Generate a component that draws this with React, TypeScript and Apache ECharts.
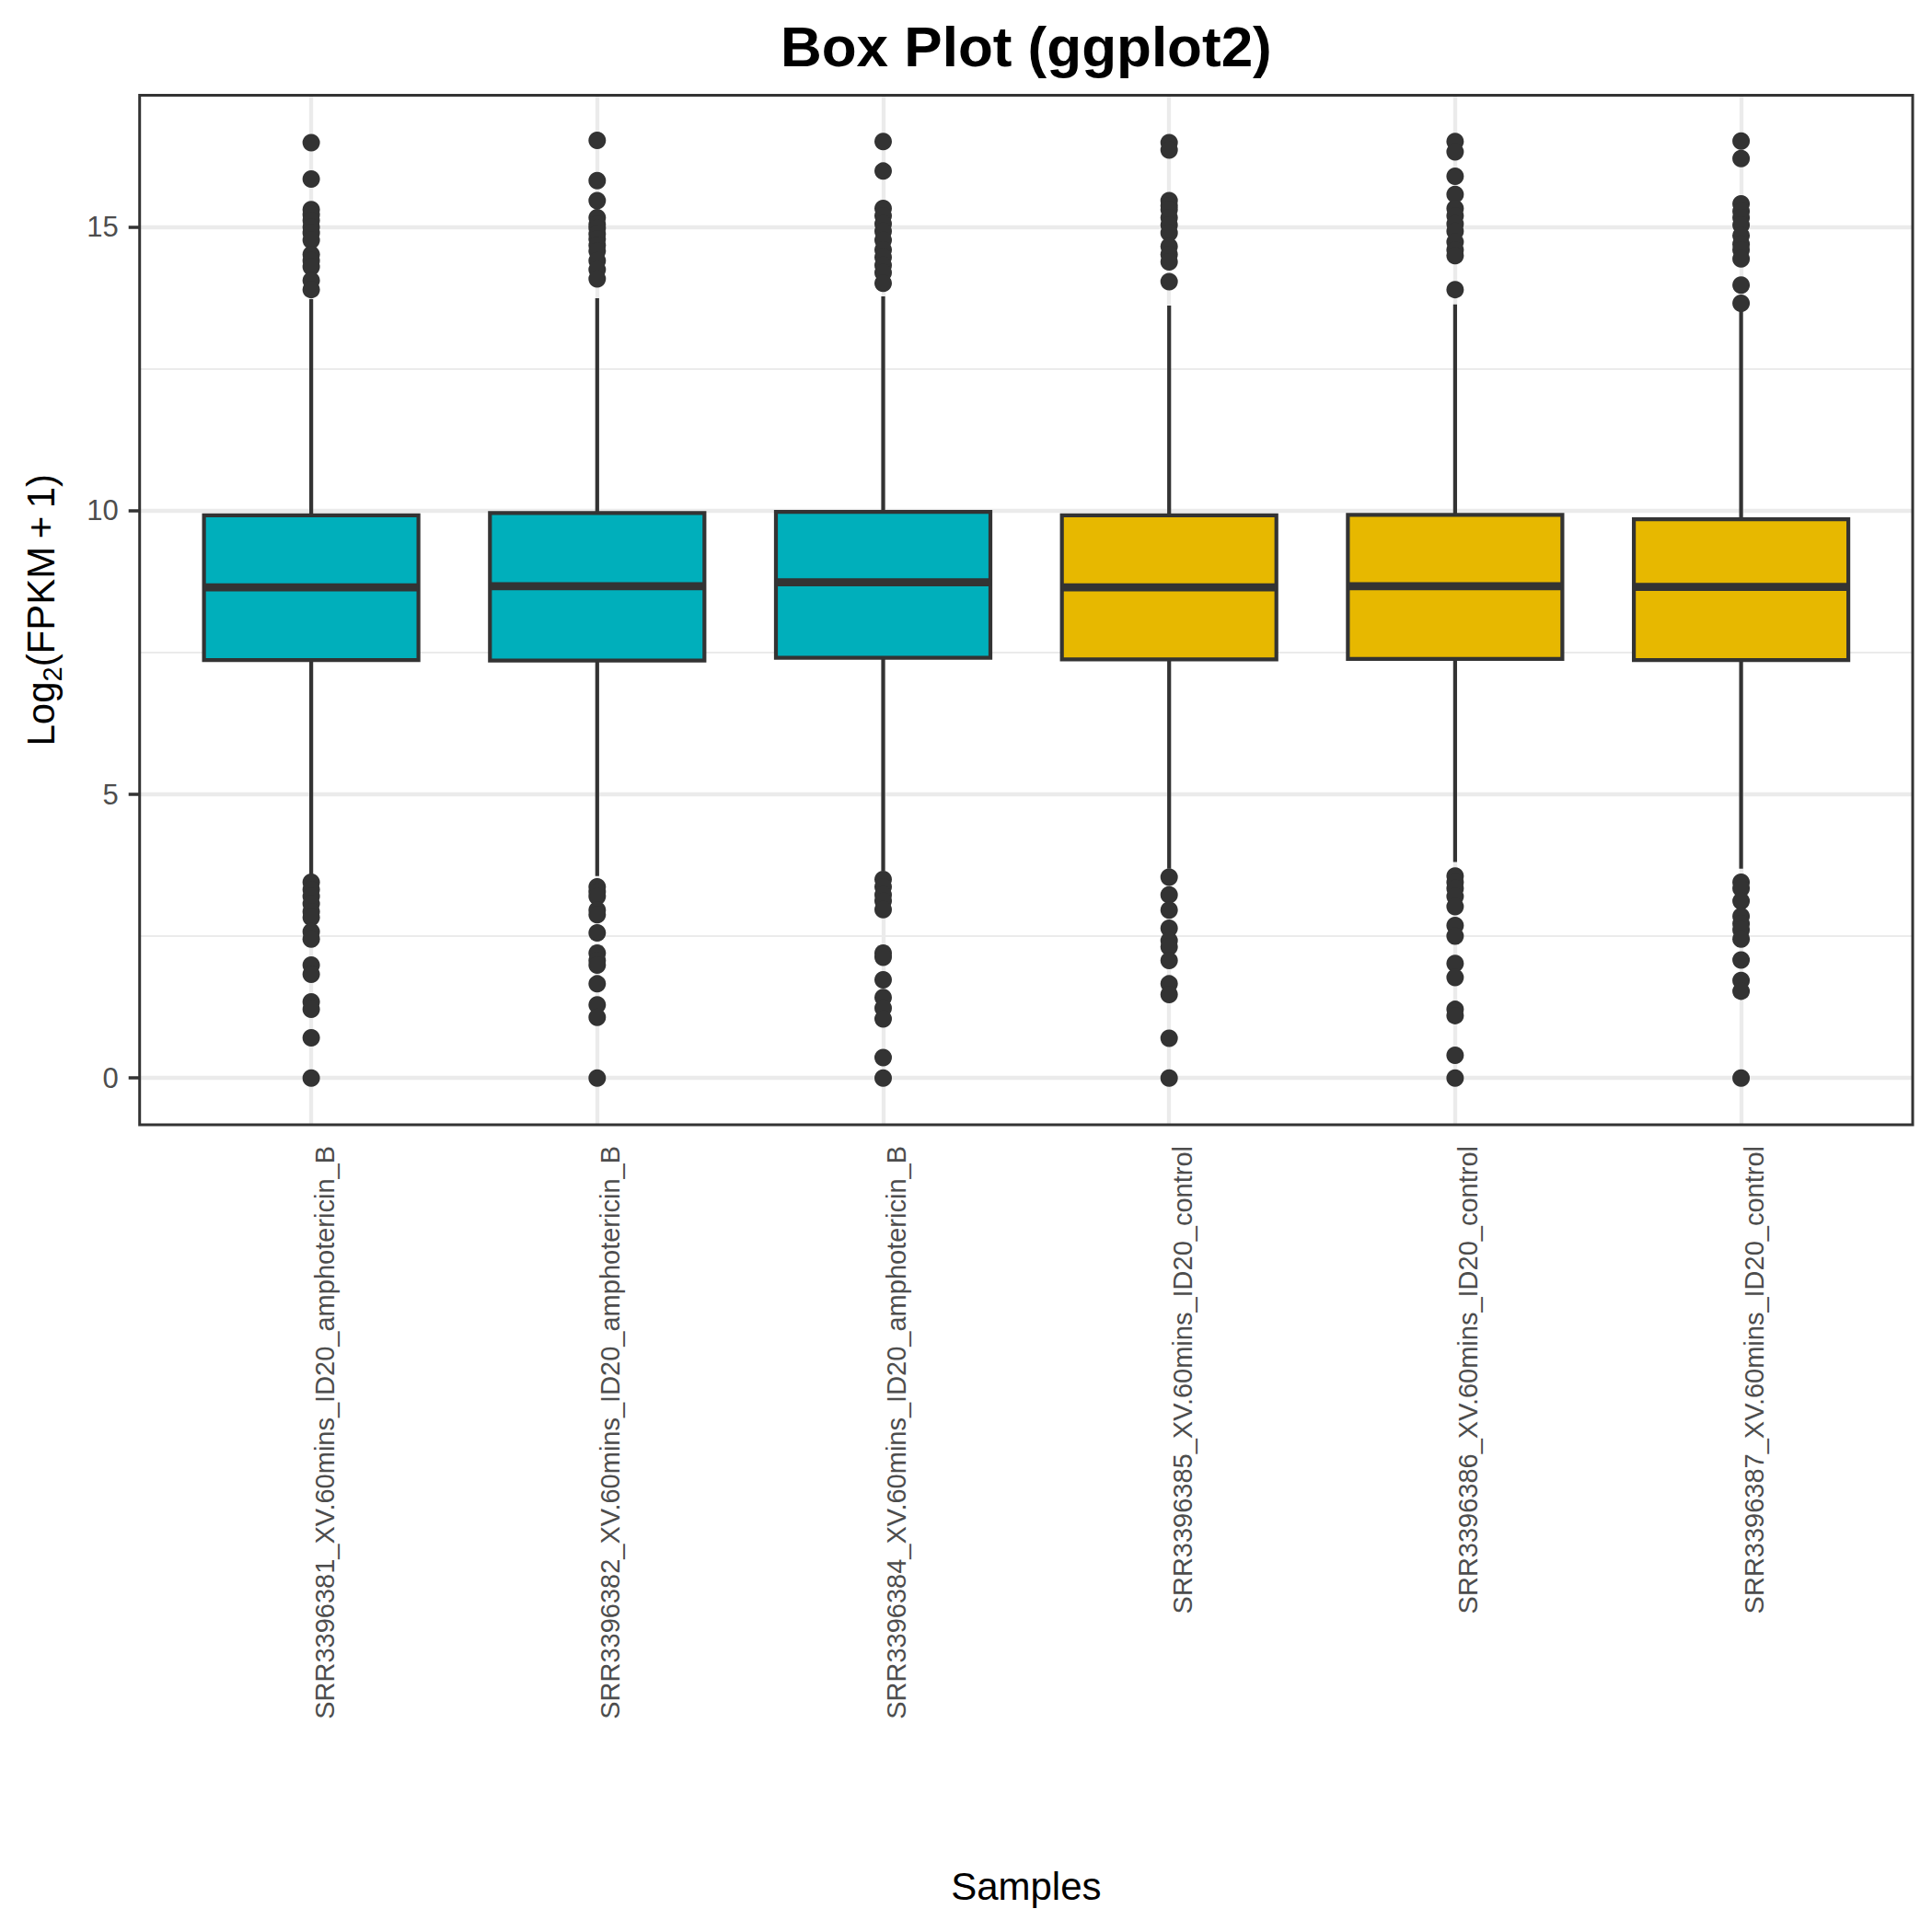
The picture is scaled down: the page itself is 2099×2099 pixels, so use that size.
import React, { useEffect, useRef } from "react";
import * as echarts from "echarts";

// ---------------- data ----------------
const categories = [
  "SRR3396381_XV.60mins_ID20_amphotericin_B",
  "SRR3396382_XV.60mins_ID20_amphotericin_B",
  "SRR3396384_XV.60mins_ID20_amphotericin_B",
  "SRR3396385_XV.60mins_ID20_control",
  "SRR3396386_XV.60mins_ID20_control",
  "SRR3396387_XV.60mins_ID20_control",
];
const groups = ["amphotericin_B", "amphotericin_B", "amphotericin_B", "control", "control", "control"];
const groupColors: Record<string, string> = { amphotericin_B: "#00AFBB", control: "#E7B800" };

const whiskerLow = [3.58, 3.56, 3.65, 3.69, 3.81, 3.69];
const q1 = [7.37, 7.36, 7.41, 7.38, 7.39, 7.37];
const median = [8.65, 8.67, 8.74, 8.65, 8.67, 8.66];
const q3 = [9.92, 9.96, 9.98, 9.92, 9.93, 9.85];
const whiskerHigh = [13.73, 13.75, 13.78, 13.62, 13.64, 13.55];

const outliersHigh = [
  [16.49, 15.85, 15.31, 15.22, 15.12, 15.0, 14.9, 14.77, 14.52, 14.41, 14.3, 14.06, 13.9],
  [16.53, 15.82, 15.47, 15.17, 15.05, 14.98, 14.88, 14.79, 14.68, 14.58, 14.41, 14.25, 14.09],
  [16.51, 15.99, 15.33, 15.2, 15.06, 14.93, 14.77, 14.6, 14.47, 14.33, 14.2, 14.01],
  [16.49, 16.36, 15.47, 15.38, 15.31, 15.17, 15.04, 14.9, 14.66, 14.52, 14.39, 14.04],
  [16.51, 16.33, 15.9, 15.58, 15.33, 15.2, 15.06, 14.93, 14.74, 14.6, 14.5, 13.9],
  [16.52, 16.21, 15.41, 15.28, 15.17, 15.04, 14.85, 14.7, 14.6, 14.44, 13.98, 13.66],
];
const outliersLow = [
  [3.45, 3.32, 3.2, 3.07, 2.93, 2.83, 2.58, 2.45, 1.99, 1.83, 1.34, 1.21, 0.71, 0],
  [3.37, 3.28, 3.2, 2.96, 2.88, 2.56, 2.2, 2.07, 1.99, 1.66, 1.29, 1.07, 0],
  [3.5, 3.37, 3.23, 3.12, 2.97, 2.2, 2.13, 1.73, 1.42, 1.23, 1.04, 0.36, 0],
  [3.54, 3.23, 2.96, 2.64, 2.42, 2.31, 2.07, 1.66, 1.47, 0.7, 0],
  [3.56, 3.45, 3.34, 3.2, 3.02, 2.69, 2.5, 2.02, 1.77, 1.21, 1.1, 0.4, 0],
  [3.45, 3.34, 3.12, 2.85, 2.72, 2.61, 2.45, 2.08, 1.72, 1.53, 0],
];

const yMajorBreaks = [0, 5, 10, 15];
const yMinorBreaks = [2.5, 7.5, 12.5];
const yMin = -0.825;
const yMax = 17.325;

const titleText = "Box Plot (ggplot2)";
const xTitle = "Samples";

// ---------------- layout / style ----------------
const FONT = "'Liberation Sans', Arial, Helvetica, sans-serif";
const PANEL_L = 151.7;
const PANEL_T = 103.6;
const PANEL_R = 2078;
const PANEL_B = 1222;
const EDGE = "#333333";
const GRID_COLOR = "#ebebeb";
const BOX_WIDTH = 0.75;

export default function App() {
  const ref = useRef<HTMLDivElement>(null);

  useEffect(() => {
    const chart = echarts.init(ref.current!, null, { renderer: "svg" });
    const n = categories.length;
    const unit = (PANEL_R - PANEL_L) / (n + 0.2);
    const pad = 0.1 * unit;
    const panelW = PANEL_R - PANEL_L;
    const panelH = PANEL_B - PANEL_T;

    const boxData = categories.map((_, i) => [i, whiskerLow[i], q1[i], median[i], q3[i], whiskerHigh[i]]);
    const outlierData: number[][] = [];
    categories.forEach((_, i) => {
      outliersHigh[i].forEach((v) => outlierData.push([i, v]));
      outliersLow[i].forEach((v) => outlierData.push([i, v]));
    });

    const option: any = {
      animation: false,
      backgroundColor: "#ffffff",
      textStyle: { fontFamily: FONT },
      grid: [
        { left: PANEL_L, top: PANEL_T, width: panelW, height: panelH, containLabel: false, outerBoundsMode: "none", show: false },
        { left: PANEL_L + pad, top: PANEL_T, width: panelW - 2 * pad, height: panelH, containLabel: false, outerBoundsMode: "none", show: false },
      ],
      xAxis: [
        { type: "value", gridIndex: 0, min: 0, max: 1, show: false },
        {
          type: "category",
          gridIndex: 1,
          data: categories,
          boundaryGap: true,
          axisLine: { show: false },
          axisTick: { show: true, alignWithLabel: true, length: 12, lineStyle: { color: EDGE, width: 3.5 } },
          axisLabel: {
            interval: 0,
            rotate: 90,
            margin: 23,
            fontSize: 29,
            color: "#4d4d4d",
            fontFamily: FONT,
            verticalAlign: "top",
          },
          splitLine: { show: false },
        },
      ],
      yAxis: [
        {
          type: "value",
          gridIndex: 0,
          min: yMin,
          max: yMax,
          splitNumber: 4,
          axisLine: { show: false },
          axisTick: { show: true, length: 12, lineStyle: { color: EDGE, width: 3.5 }, customValues: yMajorBreaks },
          axisLabel: { customValues: yMajorBreaks, margin: 23, fontSize: 31, color: "#4d4d4d", fontFamily: FONT },
          splitLine: { show: false },
        },
        { type: "value", gridIndex: 1, min: yMin, max: yMax, show: false },
      ],
      series: [
        {
          type: "line",
          xAxisIndex: 0,
          yAxisIndex: 0,
          data: [],
          silent: true,
          z: 1,
          markLine: {
            silent: true,
            z: 1,
            symbol: ["none", "none"],
            label: { show: false },
            lineStyle: { type: "solid", color: GRID_COLOR },
            emphasis: { disabled: true },
            data: [
              ...yMajorBreaks.map((v) => ({ yAxis: v, lineStyle: { color: GRID_COLOR, width: 4.3, type: "solid" } })),
              ...yMinorBreaks.map((v) => ({ yAxis: v, lineStyle: { color: GRID_COLOR, width: 2.2, type: "solid" } })),
            ],
          },
        },
        {
          type: "line",
          xAxisIndex: 1,
          yAxisIndex: 1,
          data: [],
          silent: true,
          z: 1,
          markLine: {
            silent: true,
            z: 1,
            symbol: ["none", "none"],
            label: { show: false },
            lineStyle: { type: "solid", color: GRID_COLOR, width: 4.3 },
            emphasis: { disabled: true },
            data: categories.map((_, i) => ({ xAxis: i })),
          },
        },
        {
          type: "custom",
          xAxisIndex: 1,
          yAxisIndex: 1,
          z: 3,
          silent: true,
          clip: false,
          encode: { x: 0, y: [1, 2, 3, 4, 5] },
          data: boxData,
          renderItem: (_params: any, api: any) => {
            const i = api.value(0);
            const lowP = api.coord([i, api.value(1)]);
            const q1P = api.coord([i, api.value(2)]);
            const medP = api.coord([i, api.value(3)]);
            const q3P = api.coord([i, api.value(4)]);
            const highP = api.coord([i, api.value(5)]);
            const cx = lowP[0];
            const bw = api.size([1, 0])[0] * BOX_WIDTH;
            const fill = groupColors[groups[i]];
            const lineStyle = { stroke: EDGE, lineWidth: 4.2, lineCap: "butt" };
            return {
              type: "group",
              children: [
                { type: "line", shape: { x1: cx, y1: q3P[1], x2: cx, y2: highP[1] }, style: lineStyle },
                { type: "line", shape: { x1: cx, y1: q1P[1], x2: cx, y2: lowP[1] }, style: lineStyle },
                {
                  type: "rect",
                  shape: { x: cx - bw / 2, y: q3P[1], width: bw, height: q1P[1] - q3P[1] },
                  style: { fill, stroke: EDGE, lineWidth: 4.2 },
                },
                {
                  type: "line",
                  shape: { x1: cx - bw / 2, y1: medP[1], x2: cx + bw / 2, y2: medP[1] },
                  style: { stroke: EDGE, lineWidth: 8.8, lineCap: "butt" },
                },
              ],
            };
          },
        },
        {
          type: "scatter",
          xAxisIndex: 1,
          yAxisIndex: 1,
          z: 4,
          silent: true,
          symbol: "circle",
          symbolSize: 19,
          itemStyle: { color: EDGE, opacity: 1 },
          data: outlierData,
        },
      ],
      graphic: [
        {
          type: "rect",
          z: 100,
          silent: true,
          shape: { x: PANEL_L, y: PANEL_T, width: panelW, height: panelH },
          style: { fill: "none", stroke: EDGE, lineWidth: 3 },
        },
        {
          type: "text",
          z: 100,
          x: (PANEL_L + PANEL_R) / 2,
          y: 50,
          style: {
            text: titleText,
            fill: "#000000",
            font: `bold 62px ${FONT}`,
            align: "center",
            verticalAlign: "middle",
          },
        },
        {
          type: "text",
          z: 100,
          x: (PANEL_L + PANEL_R) / 2,
          y: 2049,
          style: {
            text: xTitle,
            fill: "#000000",
            font: `42px ${FONT}`,
            align: "center",
            verticalAlign: "middle",
          },
        },
        {
          type: "text",
          z: 100,
          x: 44,
          y: (PANEL_T + PANEL_B) / 2,
          rotation: Math.PI / 2,
          style: {
            text: "{m|Log}{s|2}{m|(FPKM\u2009+\u20091)}",
            align: "center",
            verticalAlign: "middle",
            rich: {
              m: { fontSize: 42, fontFamily: FONT, fill: "#000000", lineHeight: 54, verticalAlign: "middle" },
              s: { fontSize: 29, fontFamily: FONT, fill: "#000000", lineHeight: 30, verticalAlign: "bottom" },
            },
          },
        },
      ],
    };

    chart.setOption(option);
    return () => chart.dispose();
  }, []);

  return (
    <div
      ref={ref}
      style={{ position: "absolute", left: 0, top: 0, width: 2099, height: 2099, background: "#ffffff" }}
    />
  );
}
